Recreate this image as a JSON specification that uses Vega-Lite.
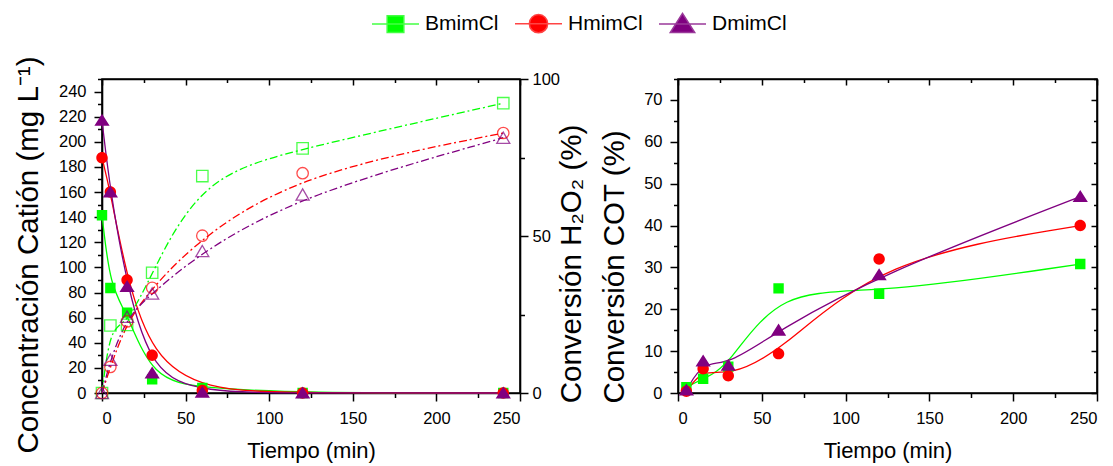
{
  "$schema": "https://vega.github.io/schema/vega-lite/v6.json",
  "autosize": {"type": "none"},
  "padding": {"left": 102, "top": 79, "right": 1011, "bottom": 387},
  "bounds": "flush",
  "spacing": 158,
  "resolve": {"legend": {"color": "independent", "stroke": "independent", "shape": "independent"}},
  "config": {
    "view": {"stroke": "black", "strokeWidth": 1.6},
    "axis": {
      "grid": false,
      "domainColor": "black",
      "domainWidth": 1.6,
      "tickColor": "black",
      "tickWidth": 1.5,
      "labelFont": "Liberation Sans",
      "labelFontSize": 16.5,
      "labelColor": "black",
      "titleFont": "Liberation Sans",
      "titleFontSize": 22,
      "titleFontWeight": "normal",
      "titleColor": "black"
    },
    "legend": {"labelFont": "Liberation Sans", "labelFontSize": 21, "labelColor": "black"}
  },
  "datasets": {
    "cation": [
      {"t": 0, "compuesto": "BmimCl", "conc": 141.5, "h2o2": 0},
      {"t": 5, "compuesto": "BmimCl", "conc": 83.6, "h2o2": 21.5},
      {"t": 15, "compuesto": "BmimCl", "conc": 64, "h2o2": 21.7},
      {"t": 30, "compuesto": "BmimCl", "conc": 11, "h2o2": 38.3},
      {"t": 60, "compuesto": "BmimCl", "conc": 4, "h2o2": 69.1},
      {"t": 120, "compuesto": "BmimCl", "conc": 0, "h2o2": 77.9},
      {"t": 240, "compuesto": "BmimCl", "conc": 0, "h2o2": 92.3},
      {"t": 0, "compuesto": "HmimCl", "conc": 187.3, "h2o2": 0},
      {"t": 5, "compuesto": "HmimCl", "conc": 160, "h2o2": 8.3},
      {"t": 15, "compuesto": "HmimCl", "conc": 90, "h2o2": 22.8},
      {"t": 30, "compuesto": "HmimCl", "conc": 30, "h2o2": 33.5},
      {"t": 60, "compuesto": "HmimCl", "conc": 2, "h2o2": 50.1},
      {"t": 120, "compuesto": "HmimCl", "conc": 0, "h2o2": 70},
      {"t": 240, "compuesto": "HmimCl", "conc": 0, "h2o2": 82.8},
      {"t": 0, "compuesto": "DmimCl", "conc": 217, "h2o2": 0},
      {"t": 5, "compuesto": "DmimCl", "conc": 160, "h2o2": 10.6},
      {"t": 15, "compuesto": "DmimCl", "conc": 84.7, "h2o2": 24.3},
      {"t": 30, "compuesto": "DmimCl", "conc": 15.9, "h2o2": 31.7},
      {"t": 60, "compuesto": "DmimCl", "conc": 0.5, "h2o2": 45.2},
      {"t": 120, "compuesto": "DmimCl", "conc": 0, "h2o2": 63.2},
      {"t": 240, "compuesto": "DmimCl", "conc": 0, "h2o2": 81.3}
    ],
    "cot": [
      {"t": 5, "compuesto": "BmimCl", "cot": 1.4},
      {"t": 15, "compuesto": "BmimCl", "cot": 3.4},
      {"t": 30, "compuesto": "BmimCl", "cot": 6.3},
      {"t": 60, "compuesto": "BmimCl", "cot": 25.0},
      {"t": 120, "compuesto": "BmimCl", "cot": 23.7},
      {"t": 240, "compuesto": "BmimCl", "cot": 30.8},
      {"t": 5, "compuesto": "HmimCl", "cot": 0.4},
      {"t": 15, "compuesto": "HmimCl", "cot": 5.8},
      {"t": 30, "compuesto": "HmimCl", "cot": 4.1},
      {"t": 60, "compuesto": "HmimCl", "cot": 9.4},
      {"t": 120, "compuesto": "HmimCl", "cot": 32.0},
      {"t": 240, "compuesto": "HmimCl", "cot": 40.0},
      {"t": 5, "compuesto": "DmimCl", "cot": 0.7},
      {"t": 15, "compuesto": "DmimCl", "cot": 7.6},
      {"t": 30, "compuesto": "DmimCl", "cot": 6.6},
      {"t": 60, "compuesto": "DmimCl", "cot": 15.0},
      {"t": 120, "compuesto": "DmimCl", "cot": 28.2},
      {"t": 240, "compuesto": "DmimCl", "cot": 46.9}
    ]
  },
  "hconcat": [
    {
      "width": 418,
      "height": 314,
      "data": {"name": "cation"},
      "resolve": {
        "scale": {"y": "independent"},
        "axis": {"x": "independent"},
        "legend": {"color": "independent", "stroke": "independent", "shape": "independent"}
      },
      "layer": [
        {
          "resolve": {"legend": {"color": "independent", "stroke": "independent", "shape": "independent"}},
          "encoding": {
            "x": {
              "field": "t", "type": "quantitative",
              "scale": {"domain": [0, 250], "nice": false},
              "axis": {
                "title": "Tiempo (min)",
                "values": [0, 25, 50, 75, 100, 125, 150, 175, 200, 225, 250],
                "labelExpr": "datum.value % 50 === 0 ? datum.label : ''",
                "tickSize": {"condition": {"test": "datum.value % 50 === 0", "value": 8}, "value": 4.5},
                "labelPadding": 9,
                "titlePadding": 14
              }
            },
            "y": {
              "field": "conc", "type": "quantitative",
              "scale": {"domain": [0, 250], "nice": false},
              "axis": {
                "title": "Concentración Catión (mg L⁻¹)",
                "titleFontSize": 29.5,
                "titleAngle": 270,
                "titleBaseline": "alphabetic",
                "titleAlign": "center",
                "titleX": -64.5,
                "titleY": 175.5,
                "values": [0, 10, 20, 30, 40, 50, 60, 70, 80, 90, 100, 110, 120, 130, 140, 150, 160, 170, 180, 190, 200, 210, 220, 230, 240, 250],
                "labelExpr": "datum.value % 20 === 0 && datum.value < 250 ? datum.label : ''",
                "tickSize": {"condition": {"test": "datum.value % 20 === 0", "value": 8}, "value": 4.5},
                "labelPadding": 8
              }
            }
          },
          "layer": [
            {
              "mark": {"type": "line", "interpolate": "basis", "strokeWidth": 1.3},
              "encoding": {
                "color": {
                  "field": "compuesto", "type": "nominal",
                  "scale": {"domain": ["BmimCl", "HmimCl", "DmimCl"], "range": ["#00ff00", "#ff0000", "#800080"]},
                  "legend": null
                }
              }
            },
            {
              "mark": {"type": "point", "filled": true, "size": 860, "strokeWidth": 0, "opacity": 1},
              "encoding": {
                "color": {
                  "field": "compuesto", "type": "nominal",
                  "scale": {"domain": ["BmimCl", "HmimCl", "DmimCl"], "range": ["#00ff00", "#ff0000", "#800080"]},
                  "legend": {
                    "title": null,
                    "orient": "none",
                    "direction": "horizontal",
                    "legendX": 269,
                    "legendY": -80,
                    "symbolSize": 2209,
                    "labelOffset": 5,
                    "columnPadding": 13,
                    "encode": {"symbols": {"update": {"strokeWidth": {"value": 1.5}, "opacity": {"value": 1}}}}
                  }
                },
                "stroke": {
                  "field": "compuesto", "type": "nominal",
                  "scale": {"domain": ["BmimCl", "HmimCl", "DmimCl"], "range": ["#44ff44", "#ff4444", "#9a3a9a"]},
                  "legend": {
                    "title": null,
                    "orient": "none",
                    "direction": "horizontal",
                    "legendX": 269,
                    "legendY": -80,
                    "symbolSize": 2209,
                    "labelOffset": 5,
                    "columnPadding": 13,
                    "encode": {"symbols": {"update": {"strokeWidth": {"value": 1.5}, "opacity": {"value": 1}}}}
                  }
                },
                "shape": {
                  "field": "compuesto", "type": "nominal",
                  "scale": {
                    "domain": ["BmimCl", "HmimCl", "DmimCl"],
                    "range": [
                      "M-1,0H1M-0.355,-0.355H0.355V0.355H-0.355Z",
                      "M-1,0H1M0.39,0A0.39,0.39 0 1,1 -0.39,0A0.39,0.39 0 1,1 0.39,0Z",
                      "M-1,0H1M0,-0.45L0.52,0.37H-0.52Z"
                    ]
                  },
                  "legend": {
                    "title": null,
                    "orient": "none",
                    "direction": "horizontal",
                    "legendX": 269,
                    "legendY": -80,
                    "symbolSize": 2209,
                    "labelOffset": 5,
                    "columnPadding": 13,
                    "encode": {"symbols": {"update": {"strokeWidth": {"value": 1.5}, "opacity": {"value": 1}}}}
                  }
                }
              }
            }
          ]
        },
        {
          "encoding": {
            "x": {
              "field": "t", "type": "quantitative",
              "scale": {"domain": [0, 250], "nice": false},
              "axis": {
                "orient": "top",
                "title": null,
                "labels": false,
                "values": [0, 25, 50, 75, 100, 125, 150, 175, 200, 225, 250],
                "tickSize": {"condition": {"test": "datum.value % 50 === 0", "value": -6}, "value": -3.5}
              }
            },
            "y": {
              "field": "h2o2", "type": "quantitative",
              "scale": {"domain": [0, 100], "nice": false},
              "axis": {
                "orient": "right",
                "title": "Conversión H₂O₂ (%)",
                "titleFontSize": 29.5,
                "titleAngle": 270,
                "titleBaseline": "alphabetic",
                "titleAlign": "center",
                "titleX": 60.5,
                "titleY": 184.5,
                "values": [0, 25, 50, 75, 100],
                "labelExpr": "datum.value % 50 === 0 ? datum.label : ''",
                "tickSize": {"condition": {"test": "datum.value % 50 === 0", "value": 8}, "value": 4.5},
                "labelPadding": 4
              }
            }
          },
          "layer": [
            {
              "mark": {"type": "line", "interpolate": "basis", "strokeWidth": 1.3, "strokeDash": [8, 3, 2, 3]},
              "encoding": {
                "color": {
                  "field": "compuesto", "type": "nominal",
                  "scale": {"domain": ["BmimCl", "HmimCl", "DmimCl"], "range": ["#00ff00", "#ff0000", "#800080"]},
                  "legend": null
                }
              }
            },
            {
              "transform": [{"filter": {"field": "compuesto", "equal": "BmimCl"}}],
              "mark": {"type": "point", "shape": "square", "filled": false, "size": 130, "strokeWidth": 1.3, "color": "#00ff00"}
            },
            {
              "transform": [{"filter": {"field": "compuesto", "equal": "HmimCl"}}],
              "mark": {"type": "point", "shape": "circle", "filled": false, "size": 130, "strokeWidth": 1.3, "color": "#ff0000"}
            },
            {
              "transform": [{"filter": {"field": "compuesto", "equal": "DmimCl"}}],
              "mark": {"type": "point", "shape": "triangle-up", "filled": false, "size": 170, "strokeWidth": 1.3, "color": "#800080"}
            }
          ]
        }
      ]
    },
    {
      "width": 419,
      "height": 314,
      "data": {"name": "cot"},
      "resolve": {"axis": {"x": "independent", "y": "independent"}},
      "layer": [
        {
          "mark": {"type": "line", "interpolate": "basis", "strokeWidth": 1.3},
          "encoding": {
            "x": {
              "field": "t", "type": "quantitative",
              "scale": {"domain": [0, 250], "nice": false},
              "axis": {
                "title": "Tiempo (min)",
                "values": [0, 25, 50, 75, 100, 125, 150, 175, 200, 225, 250],
                "labelExpr": "datum.value % 50 === 0 ? datum.label : ''",
                "tickSize": {"condition": {"test": "datum.value % 50 === 0", "value": 8}, "value": 4.5},
                "labelPadding": 9,
                "titlePadding": 14
              }
            },
            "y": {
              "field": "cot", "type": "quantitative",
              "scale": {"domain": [0, 75], "nice": false},
              "axis": {
                "title": "Conversión COT (%)",
                "titleFontSize": 29.5,
                "titleAngle": 270,
                "titleBaseline": "alphabetic",
                "titleAlign": "center",
                "titleX": -54.5,
                "titleY": 187.5,
                "values": [0, 5, 10, 15, 20, 25, 30, 35, 40, 45, 50, 55, 60, 65, 70, 75],
                "labelExpr": "datum.value % 10 === 0 ? datum.label : ''",
                "tickSize": {"condition": {"test": "datum.value % 10 === 0", "value": 8}, "value": 4.5},
                "labelPadding": 8
              }
            },
            "color": {
              "field": "compuesto", "type": "nominal",
              "scale": {"domain": ["BmimCl", "HmimCl", "DmimCl"], "range": ["#00ff00", "#ff0000", "#800080"]},
              "legend": null
            }
          }
        },
        {
          "mark": {"type": "point", "filled": true, "size": 860, "strokeWidth": 0, "opacity": 1},
          "encoding": {
            "x": {
              "field": "t", "type": "quantitative",
              "scale": {"domain": [0, 250], "nice": false},
              "axis": {
                "orient": "top",
                "title": null,
                "labels": false,
                "values": [0, 25, 50, 75, 100, 125, 150, 175, 200, 225, 250],
                "tickSize": {"condition": {"test": "datum.value % 50 === 0", "value": -6}, "value": -3.5}
              }
            },
            "y": {
              "field": "cot", "type": "quantitative",
              "scale": {"domain": [0, 75], "nice": false},
              "axis": {
                "orient": "right",
                "title": null,
                "labels": false,
                "values": [0, 5, 10, 15, 20, 25, 30, 35, 40, 45, 50, 55, 60, 65, 70, 75],
                "tickSize": {"condition": {"test": "datum.value % 10 === 0", "value": -6}, "value": -3.5}
              }
            },
            "color": {
              "field": "compuesto", "type": "nominal",
              "scale": {"domain": ["BmimCl", "HmimCl", "DmimCl"], "range": ["#00ff00", "#ff0000", "#800080"]},
              "legend": null
            },
            "shape": {
              "field": "compuesto", "type": "nominal",
              "scale": {
                "domain": ["BmimCl", "HmimCl", "DmimCl"],
                "range": [
                  "M-1,0H1M-0.355,-0.355H0.355V0.355H-0.355Z",
                  "M-1,0H1M0.39,0A0.39,0.39 0 1,1 -0.39,0A0.39,0.39 0 1,1 0.39,0Z",
                  "M-1,0H1M0,-0.45L0.52,0.37H-0.52Z"
                ]
              },
              "legend": null
            }
          }
        }
      ]
    }
  ]
}
